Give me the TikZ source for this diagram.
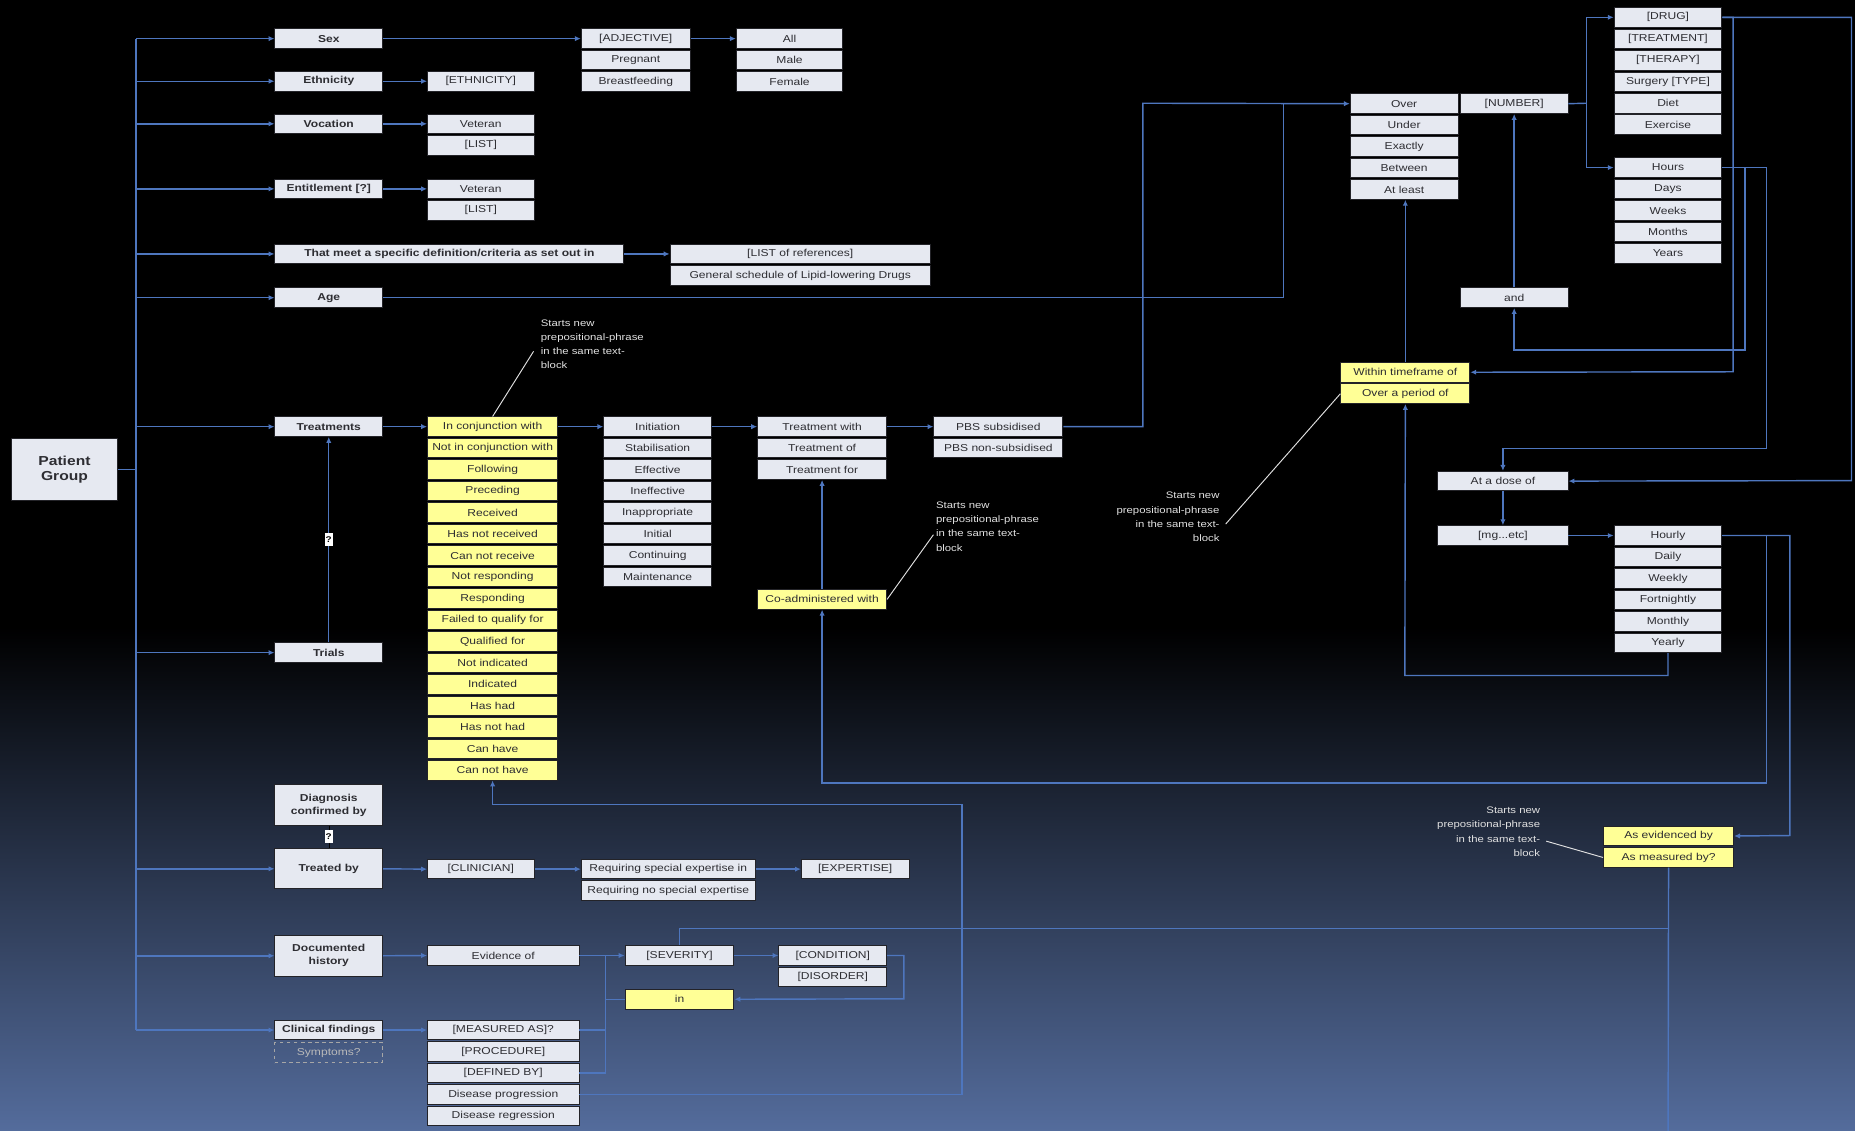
\documentclass[tikz,border=0pt]{standalone}
\usepackage{fontspec}
\setmainfont{Liberation Sans}[FakeStretch=1.2]
\usetikzlibrary{arrows.meta}
\definecolor{boxc}{RGB}{230,233,241}
\definecolor{yelc}{RGB}{255,255,150}
\definecolor{bordc}{RGB}{35,35,40}
\definecolor{txtc}{RGB}{45,45,50}
\definecolor{linec}{RGB}{78,118,190}
\definecolor{bgbot}{RGB}{84,108,156}
\definecolor{annc}{RGB}{225,225,225}
\newcommand\mystack[6]{%
  \foreach \txt [count=\i] in {#6}{%
    \node[#5, minimum width=#3pt, anchor=north west] (#1\i) at (#2,{#4+(\i-1)*18.15}) {\txt};
  }}
\begin{document}
\begin{tikzpicture}[x=1pt,y=-1pt,
  lbox/.style={draw=bordc, line width=0.8pt, fill=boxc, text=txtc, font=\fontsize{8.5}{10}\selectfont, minimum height=16.5pt, inner sep=0pt},
  ybox/.style={lbox, fill=yelc},
  bbox/.style={lbox, font=\bfseries\fontsize{8.5}{11}\selectfont, align=center},
  conn/.style={draw=linec, line width=1.2pt},
  arr/.style={conn, -{Latex[length=5pt,width=4.5pt]}},
  annl/.style={draw=annc, line width=0.8pt},
  ann/.style={text=annc, font=\fontsize{8}{12}\selectfont, inner sep=0pt},
  qm/.style={fill=white, inner sep=0.6pt, font=\bfseries\fontsize{7}{7}\selectfont, text=black, minimum width=6pt, minimum height=11pt}]
\useasboundingbox (0,0) rectangle (1568,956);
% background
\fill[black] (0,0) rectangle (1568,531);
\shade[top color=black, bottom color=bgbot] (0,530) rectangle (1568,956);

% left column
\node[bbox, font=\bfseries\fontsize{11}{13}\selectfont, minimum width=89pt, minimum height=52pt] (pg) at (54.5,397) {Patient\\Group};
\node[bbox, minimum width=91pt, anchor=north west] (sex) at (232,24) {Sex};
\node[bbox, minimum width=91pt, anchor=north west] (eth) at (232,60) {Ethnicity};
\node[bbox, minimum width=91pt, anchor=north west] (voc) at (232,96) {Vocation};
\node[bbox, minimum width=91pt, anchor=north west] (ent) at (232,151) {Entitlement [?]};
\node[bbox, minimum width=295pt, anchor=north west] (meet) at (232,206) {That meet a specific definition/criteria as set out in};
\node[bbox, minimum width=91pt, anchor=north west] (age) at (232,243) {Age};
\node[bbox, minimum width=91pt, anchor=north west] (treat) at (232,352) {Treatments};
\node[bbox, minimum width=91pt, anchor=north west] (trials) at (232,543) {Trials};
\node[bbox, minimum width=91pt, minimum height=34pt, anchor=north west] (diag) at (232,663) {Diagnosis\\confirmed by};
\node[bbox, minimum width=91pt, minimum height=34pt, anchor=north west] (tby) at (232,717) {Treated by};
\node[bbox, minimum width=91pt, minimum height=35pt, anchor=north west] (doc) at (232,790) {Documented\\history};
\node[bbox, minimum width=91pt, anchor=north west] (clin) at (232,862) {Clinical findings};
\node[draw=gray!70, dashed, line width=0.8pt, minimum width=91pt, minimum height=17pt, inner sep=0pt, text=gray!55, font=\fontsize{8.5}{10}\selectfont, anchor=north west] (symp) at (232,881) {Symptoms?};

% stacks
\mystack{adj}{491}{92}{24}{lbox}{[ADJECTIVE],Pregnant,Breastfeeding}
\mystack{sexv}{622}{90}{24}{lbox}{All,Male,Female}
\node[lbox, minimum width=90pt, anchor=north west] (ethv) at (361,60) {[ETHNICITY]};
\mystack{vocv}{361}{90}{96}{lbox}{Veteran,[LIST]}
\mystack{entv}{361}{90}{151}{lbox}{Veteran,[LIST]}
\mystack{ref}{566}{220}{206}{lbox}{[LIST of references],General schedule of Lipid-lowering Drugs}
\mystack{yel}{361}{110}{352}{ybox}{In conjunction with,Not in conjunction with,Following,Preceding,Received,Has not received,Can not receive,Not responding,Responding,Failed to qualify for,Qualified for,Not indicated,Indicated,Has had,Has not had,Can have,Can not have}
\mystack{init}{510}{91}{352}{lbox}{Initiation,Stabilisation,Effective,Ineffective,Inappropriate,Initial,Continuing,Maintenance}
\mystack{tw}{640}{109}{352}{lbox}{Treatment with,Treatment of,Treatment for}
\mystack{pbs}{789}{109}{352}{lbox}{PBS subsidised,PBS non-subsidised}
\node[ybox, minimum width=109pt, anchor=north west] (coad) at (640,498) {Co-administered with};
\mystack{over}{1141}{91}{79}{lbox}{Over,Under,Exactly,Between,At least}
\node[lbox, minimum width=91pt, anchor=north west] (num) at (1234,79) {[NUMBER]};
\mystack{drug}{1364}{91}{6}{lbox}{[DRUG],[TREATMENT],[THERAPY],Surgery [TYPE],Diet,Exercise}
\mystack{hours}{1364}{91}{133}{lbox}{Hours,Days,Weeks,Months,Years}
\node[lbox, minimum width=91pt, anchor=north west] (and) at (1234,243) {and};
\mystack{within}{1133}{109}{306}{ybox}{Within timeframe of,Over a period of}
\node[lbox, minimum width=110pt, anchor=north west] (dose) at (1215,398) {At a dose of};
\node[lbox, minimum width=110pt, anchor=north west] (mg) at (1215,444) {[mg...etc]};
\mystack{freq}{1364}{91}{444}{lbox}{Hourly,Daily,Weekly,Fortnightly,Monthly,Yearly}
\mystack{evid}{1355}{110}{698}{ybox}{As evidenced by,As measured by?}
\node[lbox, minimum width=90pt, anchor=north west] (clinician) at (361,726) {[CLINICIAN]};
\mystack{req}{491}{147}{726}{lbox}{Requiring special expertise in,Requiring no special expertise}
\node[lbox, minimum width=91pt, anchor=north west] (expertise) at (677,726) {[EXPERTISE]};
\node[lbox, minimum width=128pt, anchor=north west] (evof) at (361,799) {Evidence of};
\node[lbox, minimum width=92pt, anchor=north west] (sev) at (528,799) {[SEVERITY]};
\mystack{cond}{658}{91}{799}{lbox}{[CONDITION],[DISORDER]}
\node[ybox, minimum width=92pt, anchor=north west] (in) at (528,836) {in};
\mystack{meas}{361}{128}{862}{lbox}{[MEASURED AS]?,[PROCEDURE],[DEFINED BY],Disease progression,Disease regression}

% annotations
\node[ann, anchor=north west, align=left] (ann1) at (457,270) {Starts new\\prepositional-phrase\\in the same text-\\block};
\node[ann, anchor=north west, align=left] (ann2) at (791,424) {Starts new\\prepositional-phrase\\in the same text-\\block};
\node[ann, anchor=north east, align=right] (ann3) at (1031,416) {Starts new\\prepositional-phrase\\in the same text-\\block};
\node[ann, anchor=north east, align=right] (ann4) at (1302,682) {Starts new\\prepositional-phrase\\in the same text-\\block};
\coordinate (a1) at (451,297);
\coordinate (a2) at (789,452);
\coordinate (a3) at (1036,443);
\coordinate (a4) at (1307,711);
\draw[annl] (yel1.north) -- (a1);
\draw[annl] (coad.east) -- (a2);
\draw[annl] (a3) -- (within2.west);
\draw[annl] (a4) -- (evid2.west);

% main trunk
\coordinate (mx) at (115,397);
\draw[conn] (pg.east) -- (mx);
\draw[conn] (sex.west -| mx) -- (clin.west -| mx);
\foreach \n in {sex,eth,voc,ent,meet,age,treat,trials,tby,doc,clin}
  \draw[arr] (\n.west -| mx) -- (\n.west);

% top rows
\draw[arr] (sex.east) -- (adj1.west);
\draw[arr] (adj1.east) -- (sexv1.west);
\draw[arr] (eth.east) -- (ethv.west);
\draw[arr] (voc.east) -- (vocv1.west);
\draw[arr] (ent.east) -- (entv1.west);
\draw[arr] (meet.east) -- (ref1.west);

% age and PBS to Over
\coordinate (jA) at (1085,87.25);
\coordinate (jB) at (966,87.25);
\draw[conn] (age.east) -| (jA);
\draw[arr] (pbs1.east) -| (jB) -- (over1.west);

% treatments row
\draw[arr] (treat.east) -- (yel1.west);
\draw[arr] (yel1.east) -- (init1.west);
\draw[arr] (init1.east) -- (tw1.west);
\draw[arr] (tw1.east) -- (pbs1.west);
\draw[arr] (trials.north) -- node[qm]{?} (treat.south);
\draw[arr] (coad.north) -- (tw3.south);

% number branch
\coordinate (jN) at (1341,87.25);
\draw[conn] (num.east) -- (jN);
\draw[arr] (jN) |- (drug1.west);
\draw[arr] (jN) |- (hours1.west);
\draw[arr] (and.north) -- (num.south);
\draw[arr] (within1.north) -- (within1.north |- over5.south);

% right side loops
\coordinate (cR) at (1565,406.25);
\coordinate (cW) at (1465,314.25);
\coordinate (cH1) at (1475,296);
\coordinate (cH2) at (1493,379);
\draw[arr] (drug1.east) -| (cR) -- (dose.east);
\draw[arr] (drug1.east) -| (cW) -- (within1.east);
\draw[arr] (hours1.east) -| (cH1) -| (and.south);
\draw[arr] (hours1.east) -| (cH2) -| (dose.north);
\draw[arr] (dose.south) -- (mg.north);
\draw[arr] (mg.east) -- (freq1.west);
\coordinate (cY) at (1187.5,571);
\draw[arr] (freq6.south) |- (cY) -- (within2.south);
\coordinate (cF1) at (1493,662);
\coordinate (cF2) at (1513,706.25);
\draw[arr] (freq1.east) -| (cF1) -| (coad.south);
\draw[arr] (freq1.east) -| (cF2) -- (evid1.east);
\coordinate (cBot) at (1410,956);
\coordinate (cS) at (1410,785);
\draw[conn] (evid2.south) -- (cBot);
\draw[conn] (cS) -| (sev.north);

% lower rows
\draw (diag.south) -- node[qm]{?} (tby.north);
\draw[arr] (tby.east) -- (clinician.west);
\draw[arr] (clinician.east) -- (req1.west);
\draw[arr] (req1.east) -- (expertise.west);
\draw[arr] (doc.east) -- (evof.west);
\draw[arr] (evof.east) -- (sev.west);
\draw[arr] (sev.east) -- (cond1.west);
\coordinate (cC) at (764,844.25);
\draw[arr] (cond1.east) -| (cC) -- (in.east);
\coordinate (v1) at (512,807.25);
\coordinate (v2) at (512,906.55);
\draw[conn] (v1) -- (v2);
\draw[conn] (in.west) -- (in.west -| v1);
\draw[conn] (meas1.east) -- (meas1.east -| v1);
\draw[conn] (meas3.east) -- (meas3.east -| v1);
\draw[arr] (clin.east) -- (meas1.west);
\coordinate (cM) at (813,680);
\draw[arr] (meas4.east) -| (cM) -| (yel17.south);
\end{tikzpicture}
\end{document}
